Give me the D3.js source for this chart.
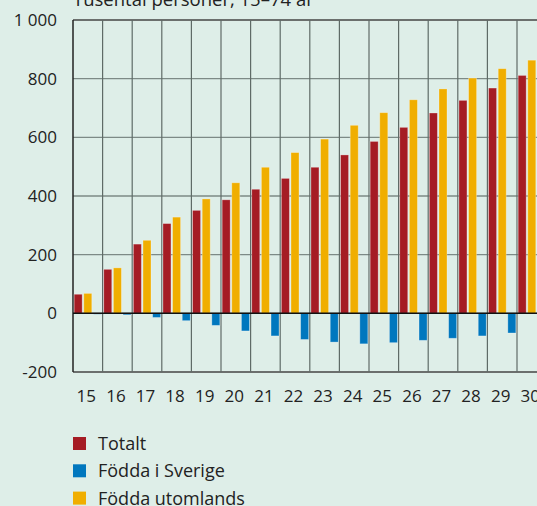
<!DOCTYPE html>
<html>
<head>
<meta charset="utf-8">
<script src="https://cdn.jsdelivr.net/npm/d3@7"></script>
<style>
  body { margin: 0; background: #deeee8; }
  svg { display: block; font-family: "Open Sans", "Noto Sans", sans-serif; }
</style>
</head>
<body>
<div id="chart"></div>
<script>
// data
var years = ['15','16','17','18','19','20','21','22','23','24','25','26','27','28','29','30'];
var totalt = [65, 150, 236, 306, 351, 387, 423, 460, 498, 540, 586, 634, 683, 726, 768, 811];
var foddaSverige = [-3, -5, -14, -25, -41, -60, -77, -89, -98, -104, -100, -92, -85, -77, -67, -55];
var foddaUtomlands = [68, 155, 249, 328, 390, 445, 498, 548, 594, 641, 684, 728, 765, 802, 834, 863];
var seriesNames = ['Totalt', 'Födda i Sverige', 'Födda utomlands'];
var seriesColors = ['#a51c24', '#0077be', '#f0ae00'];
var seriesSlot = [0, 2, 1]; // bar order within a year: totalt, utomlands, sverige
var yTicks = [-200, 0, 200, 400, 600, 800, 1000];
var title = 'Tusental personer, 15–74 år';

var svgWidth = 537;
var svgHeight = 506;

var chartMargin = { top: 20, left: 73 };
var bandW = 29.6;
var chartWidth = bandW * years.length;
var chartHeight = 352;

var svg = d3.select('#chart')
    .append('svg')
    .attr('width', svgWidth)
    .attr('height', svgHeight);

svg.append('rect')
    .attr('width', svgWidth)
    .attr('height', svgHeight)
    .attr('fill', '#deeee8');

var chartGroup = svg.append('g')
    .attr('transform', `translate(${chartMargin.left}, ${chartMargin.top})`);

// scales
var xScale = d3.scaleBand()
    .domain(years)
    .range([0, chartWidth]);
var innerScale = d3.scaleBand()
    .domain(d3.range(3))
    .range([0, xScale.bandwidth()])
    .paddingInner(0.17)
    .paddingOuter(0.12);
var yScale = d3.scaleLinear()
    .domain([-200, 1000])
    .range([chartHeight, 0]);

// horizontal grid
chartGroup.append('g')
    .selectAll('line')
    .data(yTicks)
    .enter()
    .append('line')
    .attr('x1', 0)
    .attr('x2', chartWidth)
    .attr('y1', d => yScale(d))
    .attr('y2', d => yScale(d))
    .attr('stroke', d => (d === 1000 || d === -200) ? '#444' : '#7d8a86')
    .attr('stroke-width', 1.3);

// vertical grid at band edges
chartGroup.append('g')
    .selectAll('line')
    .data(years)
    .enter()
    .append('line')
    .attr('x1', d => xScale(d))
    .attr('x2', d => xScale(d))
    .attr('y1', 0)
    .attr('y2', chartHeight)
    .attr('stroke', (d, i) => i === 0 ? '#222' : '#5f6b67')
    .attr('stroke-width', (d, i) => i === 0 ? 1.5 : 1.2);

// bars
var rows = years.map((y, i) => ({ year: y, values: [totalt[i], foddaSverige[i], foddaUtomlands[i]] }));

var groups = chartGroup.selectAll('.grp')
    .data(rows)
    .enter()
    .append('g')
    .attr('transform', d => `translate(${xScale(d.year)}, 0)`);

groups.selectAll('rect')
    .data(d => d.values.map((v, k) => ({ k: k, v: v })))
    .enter()
    .append('rect')
    .attr('x', d => innerScale(seriesSlot[d.k]))
    .attr('width', innerScale.bandwidth())
    .attr('y', d => yScale(Math.max(0, d.v)))
    .attr('height', d => Math.abs(yScale(d.v) - yScale(0)))
    .attr('fill', d => seriesColors[d.k])
    .attr('stroke', 'rgba(255,255,255,0.35)')
    .attr('stroke-width', 0.8);

// zero line
chartGroup.append('line')
    .attr('x1', 0)
    .attr('x2', chartWidth)
    .attr('y1', yScale(0))
    .attr('y2', yScale(0))
    .attr('stroke', '#111')
    .attr('stroke-width', 1.5);

// y labels
chartGroup.append('g')
    .selectAll('text')
    .data(yTicks)
    .enter()
    .append('text')
    .attr('x', -16)
    .attr('y', d => yScale(d))
    .attr('dy', '0.36em')
    .attr('text-anchor', 'end')
    .attr('font-size', 17)
    .attr('fill', '#222')
    .text(d => d === 1000 ? '1 000' : String(d));

// x labels
chartGroup.append('g')
    .selectAll('text')
    .data(years)
    .enter()
    .append('text')
    .attr('x', d => xScale(d) + xScale.bandwidth() / 2 - 1.5)
    .attr('y', chartHeight + 29.5)
    .attr('text-anchor', 'middle')
    .attr('font-size', 17)
    .attr('fill', '#222')
    .text(d => d);

// title (cut by the top edge, as in the original)
svg.append('text')
    .attr('x', chartMargin.left)
    .attr('y', 5.5)
    .attr('font-size', 18.5)
    .attr('fill', '#222')
    .text(title);

// legend
var legend = svg.append('g')
    .attr('transform', 'translate(73, 437)');
var items = legend.selectAll('g')
    .data(seriesNames)
    .enter()
    .append('g')
    .attr('transform', (d, i) => `translate(0, ${i * 27.3})`);
items.append('rect')
    .attr('width', 13)
    .attr('height', 13)
    .attr('fill', (d, i) => seriesColors[i]);
items.append('text')
    .attr('x', 25)
    .attr('y', 13)
    .attr('font-size', 18)
    .attr('fill', '#222')
    .text(d => d);
</script>
</body>
</html>
